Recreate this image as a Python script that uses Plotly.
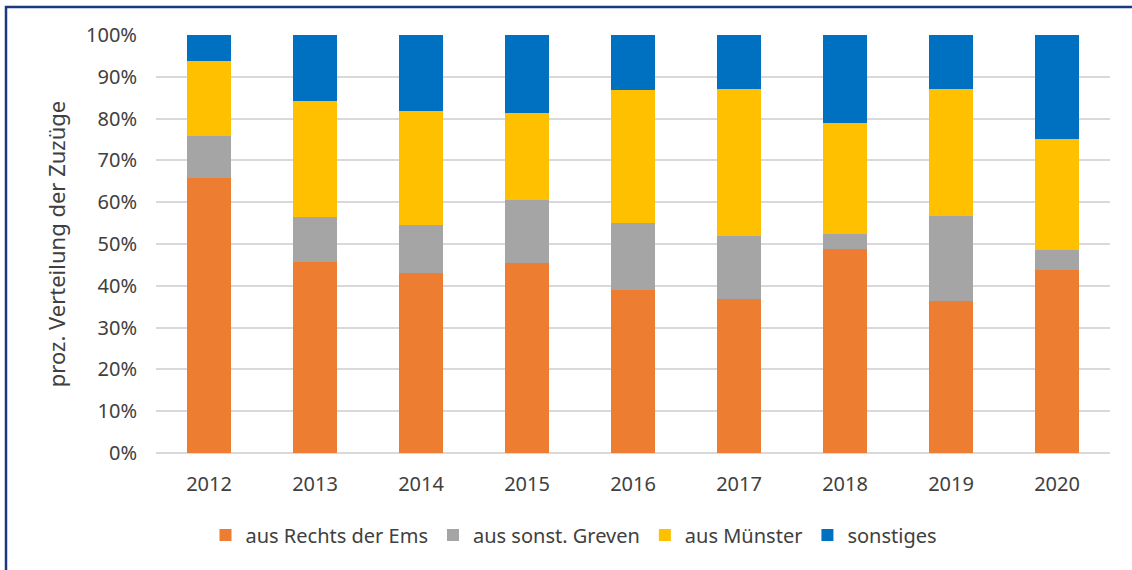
import plotly.graph_objects as go

years = ["2012", "2013", "2014", "2015", "2016", "2017", "2018", "2019", "2020"]
rechts_ems = [65.9, 45.7, 43.0, 45.4, 39.1, 36.8, 48.7, 36.4, 43.9]
sonst_greven = [10.0, 10.8, 11.5, 15.2, 15.9, 15.2, 3.8, 20.4, 4.6]
muenster = [18.0, 27.8, 27.2, 20.8, 31.8, 35.0, 26.4, 30.4, 26.6]
sonstiges = [6.1, 15.7, 18.3, 18.6, 13.2, 13.0, 21.1, 12.8, 24.9]

series_names = ["aus Rechts der Ems", "aus sonst. Greven", "aus Münster", "sonstiges"]
series_values = [rechts_ems, sonst_greven, muenster, sonstiges]
series_colors = ["#ED7D31", "#A5A5A5", "#FFC000", "#0070C0"]

W, H = 1132, 570
L, R, T, B = 156, 22, 35, 117
pw, ph = W - L - R, H - T - B

def px_x(p):
    return (p - L) / pw

def px_y(p):
    return (H - B - p) / ph

FONT = "Noto Sans"
TXT = "#404040"

fig = go.Figure()
for name, vals, col in zip(series_names, series_values, series_colors):
    fig.add_trace(go.Bar(x=years, y=[v / 100 for v in vals], name=name,
                         marker=dict(color=col, line=dict(width=0))))

fig.update_layout(
    barmode="stack",
    bargap=0.585,
    width=W, height=H,
    margin=dict(l=L, r=R, t=T, b=B, autoexpand=False),
    paper_bgcolor="white", plot_bgcolor="white",
    font=dict(family=FONT, color=TXT, size=20),
    legend=dict(orientation="h", x=px_x(574), xanchor="center", y=px_y(535), yanchor="middle",
                font=dict(size=20, color=TXT), itemwidth=30, traceorder="normal",
                bgcolor="rgba(0,0,0,0)"),
    xaxis=dict(showgrid=False, showline=False, ticks="", ticklabelstandoff=17,
               tickfont=dict(size=20, color=TXT)),
    yaxis=dict(range=[0, 1], tickformat=".0%", dtick=0.1, showgrid=True,
               gridcolor="#d9d9d9", gridwidth=2, zeroline=True, zerolinecolor="#d9d9d9",
               zerolinewidth=2, ticks="", ticklabelstandoff=18,
               tickfont=dict(size=20, color=TXT),
               title=dict(text="proz. Verteilung der Zuzüge", font=dict(size=22, color=TXT),
                          standoff=14)),
    shapes=[
        dict(type="rect", xref="paper", yref="paper", x0=px_x(6), x1=px_x(W + 20),
             y0=px_y(7), y1=px_y(H + 20), line=dict(color="#1a3a80", width=2.5),
             fillcolor="rgba(0,0,0,0)", layer="above"),
    ],
)

fig.write_html("out.html", config={"displayModeBar": False},
               post_script="document.body.style.margin='0';")
